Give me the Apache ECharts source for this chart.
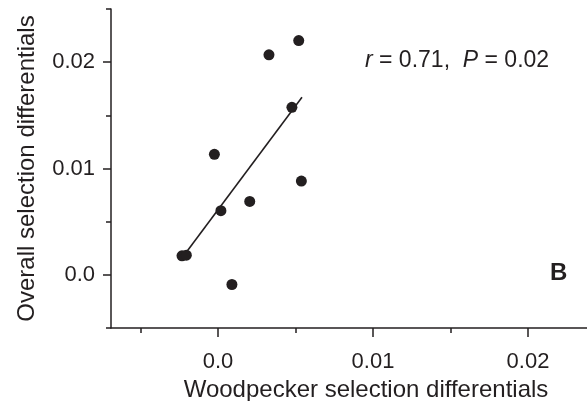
<!DOCTYPE html>
<html>
<head>
<meta charset="utf-8">
<script src="https://cdn.jsdelivr.net/npm/echarts@6/dist/echarts.min.js"></script>
<style>
html,body{margin:0;padding:0;background:#fff;}
#chart{width:587px;height:401px;}
</style>
</head>
<body>
<div id="chart"></div>
<script>
// Data
const woodpeckerX = [0.00521, 0.00329, 0.00477, -0.00023, 0.00538, 0.00205, 0.00019, -0.00232, -0.00204, 0.00090];
const overallY    = [0.02203, 0.02069, 0.01575, 0.01133, 0.00882, 0.00690, 0.00603, 0.00179, 0.00185, -0.00091];
const fitX = [-0.00197, 0.00542];
const fitY = [0.00226, 0.01670];
const xMajorTicks = [0.0, 0.01, 0.02];
const xMinorTicks = [-0.005, 0.005, 0.015];
const yMajorTicks = [0.0, 0.01, 0.02];
const yMinorTicks = [-0.005, 0.005, 0.015, 0.025];
const xTitle = 'Woodpecker selection differentials';
const yTitle = 'Overall selection differentials';
const statR = '0.71';
const statP = '0.02';
const panelLabel = 'B';

const INK = '#231f20';
const FONT = '"Liberation Sans", Arial, Helvetica, sans-serif';
const fmt = v => (Math.abs(v) < 1e-12 ? '0.0' : String(+v.toFixed(3)));

const xRange = {min: -0.0069, max: 0.0260};
const yRange = {min: -0.005, max: 0.025};

function tickAxis(range, pos, values, len) {
  return {
    type: 'value', min: range.min, max: range.max, position: pos,
    axisLine: {show: false, onZero: false},
    axisTick: {show: true, inside: false, length: len, customValues: values, lineStyle: {color: INK, width: 1.5}},
    axisLabel: {show: false},
    splitLine: {show: false}
  };
}

const chart = echarts.init(document.getElementById('chart'), null, {renderer: 'canvas'});
chart.setOption({
  animation: false,
  backgroundColor: '#fff',
  grid: {left: 111, right: -34, top: 9, bottom: 73, containLabel: false, outerBoundsMode: 'none'},
  xAxis: [{
    type: 'value', min: xRange.min, max: xRange.max, position: 'bottom',
    name: xTitle, nameLocation: 'middle', nameGap: 48,
    nameTextStyle: {fontFamily: FONT, fontSize: 24, color: INK},
    axisLine: {show: true, onZero: false, lineStyle: {color: INK, width: 1.5}},
    axisTick: {show: false},
    axisLabel: {show: true, customValues: xMajorTicks, margin: 23, fontFamily: FONT, fontSize: 22, color: INK, formatter: fmt},
    splitLine: {show: false}
  }, tickAxis(xRange, 'bottom', xMajorTicks, 9), tickAxis(xRange, 'bottom', xMinorTicks, 5)],
  yAxis: [{
    type: 'value', min: yRange.min, max: yRange.max, position: 'left',
    name: yTitle, nameLocation: 'middle', nameGap: 72, nameRotate: 90,
    nameTextStyle: {fontFamily: FONT, fontSize: 24, color: INK},
    axisLine: {show: true, onZero: false, lineStyle: {color: INK, width: 1.5}},
    axisTick: {show: false},
    axisLabel: {show: true, customValues: yMajorTicks, margin: 16, fontFamily: FONT, fontSize: 22, color: INK, formatter: fmt},
    splitLine: {show: false}
  }, tickAxis(yRange, 'left', yMajorTicks, 8), tickAxis(yRange, 'left', yMinorTicks, 5)],
  series: [{
    type: 'line',
    data: fitX.map((x, i) => [x, fitY[i]]),
    showSymbol: false, symbol: 'none',
    lineStyle: {color: INK, width: 1.6},
    z: 2
  }, {
    type: 'scatter',
    data: woodpeckerX.map((x, i) => [x, overallY[i]]),
    symbol: 'circle', symbolSize: 11,
    itemStyle: {color: INK, opacity: 1},
    z: 3
  }],
  graphic: [{
    type: 'text', left: 365, top: 49,
    style: {
      text: '{i|r} = ' + statR + ',  {i|P} = ' + statP,
      font: '23px ' + FONT, fill: INK,
      rich: {i: {fontStyle: 'italic', fontFamily: FONT, fontSize: 23, fill: INK}}
    }
  }, {
    type: 'text', left: 550, top: 261,
    style: {text: panelLabel, font: 'bold 24px ' + FONT, fill: INK}
  }]
});
</script>
</body>
</html>
